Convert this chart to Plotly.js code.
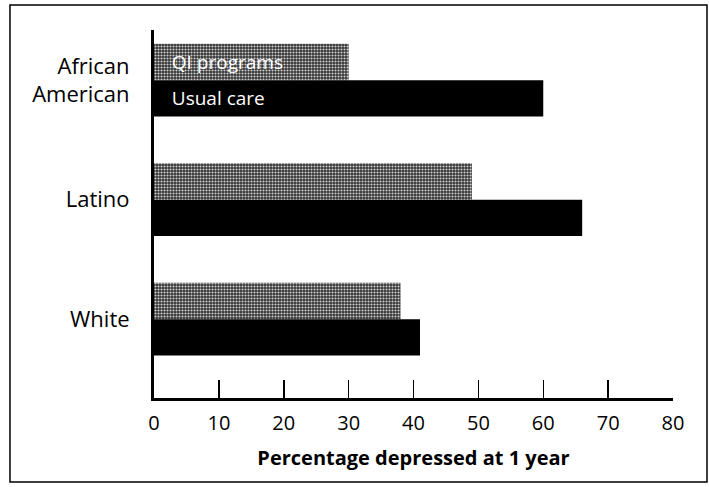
<!DOCTYPE html>
<html>
<head>
<meta charset="utf-8">
<script src="https://cdn.plot.ly/plotly-3.0.1.min.js"></script>
<style>html,body{margin:0;padding:0;background:#fff;}#chart{width:709px;height:487px;}</style>
</head>
<body>
<div id="chart"></div>
<script>
var categories = ['African<br>American', 'Latino', 'White'];
var qiValues = [30, 49, 38];
var usualValues = [60, 66, 41];
var seriesNames = ['QI programs', 'Usual care'];
var xTicks = [0, 10, 20, 30, 40, 50, 60, 70, 80];

var FONT = 'Open Sans, Noto Sans, sans-serif';
var pad = '\u00A0\u00A0\u00A0';

var traces = [
  {
    type: 'bar', orientation: 'h', name: seriesNames[0],
    y: categories, x: qiValues,
    text: [pad + seriesNames[0], '', ''],
    textposition: 'inside', insidetextanchor: 'start',
    textfont: {family: FONT, size: 19, color: '#ffffff'},
    marker: {color: '#666', line: {width: 0},
      pattern: {shape: '.', bgcolor: '#333333', fgcolor: '#d0d0d0', size: 3, solidity: 0.4}},
    hoverinfo: 'none'
  },
  {
    type: 'bar', orientation: 'h', name: seriesNames[1],
    y: categories, x: usualValues,
    text: [pad + seriesNames[1], '', ''],
    textposition: 'inside', insidetextanchor: 'start',
    textfont: {family: FONT, size: 19, color: '#ffffff'},
    marker: {color: '#000000', line: {width: 0}},
    hoverinfo: 'none'
  }
];

var layout = {
  width: 709, height: 487,
  margin: {l: 154, r: 36, t: 30, b: 89},
  paper_bgcolor: '#ffffff', plot_bgcolor: '#ffffff',
  showlegend: false,
  barmode: 'group', bargap: 0.39, bargroupgap: 0,
  font: {family: FONT, color: '#000'},
  xaxis: {
    range: [0, 80], tickvals: xTicks, ticktext: xTicks.map(String),
    showgrid: false, zeroline: false,
    showline: true, linewidth: 3, linecolor: '#000',
    ticks: 'inside', ticklen: 18, tickwidth: 1.5, tickcolor: '#000',
    ticklabelstandoff: 5,
    tickfont: {family: FONT, size: 20, color: '#000'},
    title: {text: 'Percentage depressed at 1 year', font: {family: FONT, size: 20, color: '#000', weight: 'bold'}, standoff: 16}
  },
  yaxis: {
    type: 'category', categoryorder: 'array', categoryarray: categories,
    range: [2.66, -0.42],
    showgrid: false, zeroline: false,
    showline: true, linewidth: 3, linecolor: '#000',
    ticks: '', ticklabelstandoff: 17,
    tickfont: {family: FONT, size: 22, color: '#000'}
  },
  shapes: [{
    type: 'rect', xref: 'paper', yref: 'paper',
    x0: -0.2775, x1: 1.0655, y0: -0.228, y1: 1.068,
    line: {color: '#000', width: 1.5}, fillcolor: 'rgba(0,0,0,0)', layer: 'below'
  }]
};

Plotly.newPlot('chart', traces, layout, {displayModeBar: false, staticPlot: true});
</script>
</body>
</html>
